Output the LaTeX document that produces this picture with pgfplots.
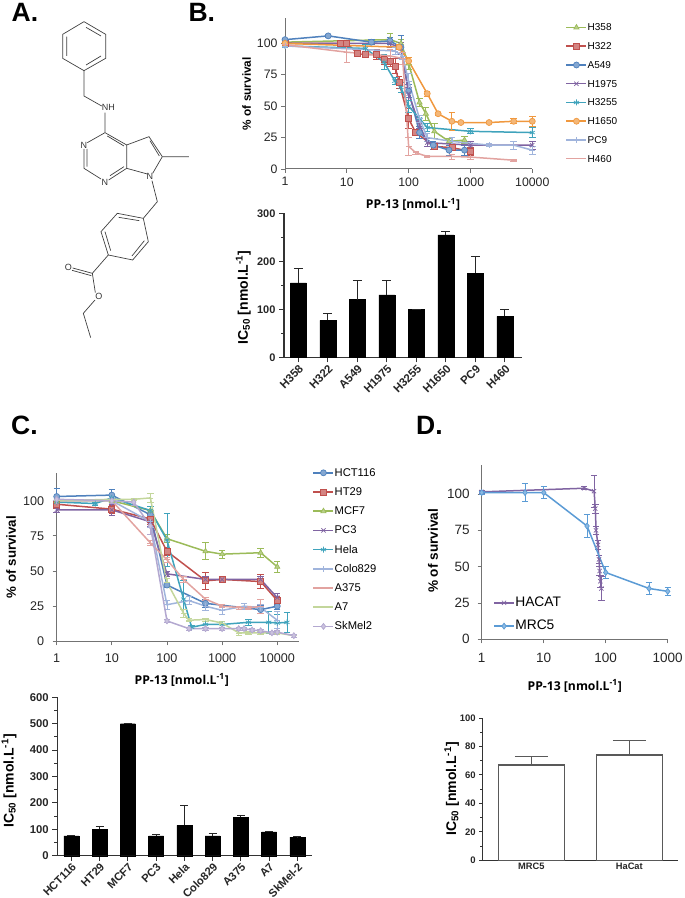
\documentclass[border=0pt]{standalone}
\usepackage{pgfplots}
\pgfplotsset{compat=1.18}
\usepackage{fontspec}
\setmainfont{Liberation Sans}
\newfontfamily\labfont{Open Sans}
\definecolor{cGreen}{HTML}{9BBB59}
\definecolor{cRed}{HTML}{C0504D}
\definecolor{cBlue}{HTML}{4F81BD}
\definecolor{cPurple}{HTML}{8064A2}
\definecolor{cTeal}{HTML}{3FA3BC}
\definecolor{cOrange}{HTML}{F0983E}
\definecolor{cLBlue}{HTML}{A0B4DC}
\definecolor{cPink}{HTML}{E2A3A0}
\definecolor{cLGreen}{HTML}{C3D69B}
\definecolor{cLav}{HTML}{B3A8D0}
\definecolor{cMRC}{HTML}{5B9BD5}
\newcommand{\fs}[1]{\fontsize{#1}{#1}\selectfont}
\pgfplotsset{
  legend image code/.code={\draw[yshift=0.35em,mark repeat=2,mark phase=2,#1] plot coordinates {(0pt,0pt)(10pt,0pt)(20pt,0pt)};},
  myaxiscurve/.style={scale only axis,axis lines=left,axis line style={-,black!55,line width=1pt},
    tick style={black!55,line width=0.9pt},tick align=outside,major tick length=4pt,
    xminorticks=false,ymin=0,ymax=120,
    ytick={0,25,50,75,100},/pgf/number format/assume math mode=true,clip=false,
    every axis x label/.style={at={(axis description cs:0,0)},anchor=center},
    every axis y label/.style={at={(axis description cs:0,0)},rotate=90,anchor=center},
    legend cell align=left},
  myaxisbar/.style={scale only axis,axis lines=left,axis line style={-,black!80,line width=1.1pt},
    tick style={black!80,line width=1pt},tick align=outside,major tick length=5pt,minor tick length=3pt,
    ybar,xtick=data,ymin=0,/pgf/number format/assume math mode=true,clip=false,
    x tick style={black!80},
    every axis x label/.style={at={(axis description cs:0,0)},anchor=center},
    every axis y label/.style={at={(axis description cs:0,0)},rotate=90,anchor=center}},
  myser/.style={color=#1,line width=1.5pt,mark size=3pt,mark options={solid,fill=#1!70!white,draw=#1,line width=0.7pt},
    error bars/y dir=both,error bars/y explicit,error bars/error mark options={rotate=90,mark size=3.2pt,color=#1,line width=0.8pt},
    error bars/error bar style={color=#1,line width=0.8pt}},
  myleg/.style={legend style={at={(axis description cs:0,0)},anchor=north west,draw=none,fill=none,inner sep=0pt,outer sep=0pt,
    nodes={inner sep=0.5pt,text height=7.5pt,text depth=1.5pt,anchor=base west},#1}},
}
\begin{document}
\begin{tikzpicture}
\path[use as bounding box] (0pt,0pt) rectangle (685pt,898pt);
% panel letters
\node[anchor=base west,inner sep=0pt,font=\fs{26.5}\bfseries] at (11.5pt,876.3pt) {A.};
\node[anchor=base west,inner sep=0pt,font=\fs{26.5}\bfseries] at (188.3pt,876.3pt) {B.};
\node[anchor=base west,inner sep=0pt,font=\fs{26.5}\bfseries] at (11pt,463pt) {C.};
\node[anchor=base west,inner sep=0pt,font=\fs{26.5}\bfseries] at (416pt,463pt) {D.};
% molecule (panel A, structural sketch, not data)
\begin{scope}[shift={(0pt,898pt)},x=0.33333pt,y=-0.33333pt,line width=0.7pt,color=black!75]
\draw (252,65)--(317,103)--(317,175)--(252,212)--(188,175)--(188,103)--cycle;
\draw (258,82)--(303,108) (303,168)--(258,195) (200,110)--(200,168);
\draw (252,212)--(252,288)--(305,318) (315,338)--(315,398);
\draw (315,398)--(262,428) (252,447)--(252,505)--(303,537) (326,540)--(380,505)--(380,435)--(315,398);
\draw (261,447)--(261,500) (330,527)--(372,500) (372,438)--(322,408);
\draw (380,435)--(447,410)--(487,470)--(458,520) (442,522)--(380,505);
\draw (450,422)--(478,468) (487,470)--(567,470);
\draw (456,542)--(472,605)--(430,655);
\draw (430,655)--(352,640)--(303,695)--(325,765)--(398,780)--(445,725)--cycle;
\draw (356,652)--(418,662) (315,695)--(332,752) (396,768)--(433,722);
\draw (325,765)--(277,820)--(286,878) (277,820)--(218,804) (274,827)--(216,811);
\draw (285,900)--(250,940)--(272,1013);
\node[font=\fs{9},inner sep=0pt,text=black!80] at (325,323) {NH};
\node[font=\fs{9},inner sep=0pt,text=black!80] at (252,435) {N};
\node[font=\fs{9},inner sep=0pt,text=black!80] at (315,546) {N};
\node[font=\fs{9},inner sep=0pt,text=black!80] at (450,530) {N};
\node[font=\fs{9},inner sep=0pt,text=black!80] at (205,803) {O};
\node[font=\fs{9},inner sep=0pt,text=black!80] at (297,890) {O};
\end{scope}

% Panel B curves
\begin{semilogxaxis}[myaxiscurve,at={(285pt,729pt)},anchor=south west,width=247.3pt,height=150.7pt,
  xmin=1,xmax=10000,xtick={1,10,100,1000,10000},xticklabels={1,10,100,1000,10000},
  tick label style={font=\fs{12.3},text=black!85},
  xticklabel style={yshift=-1pt},
  xlabel={\labfont\fs{12.2}\bfseries PP-13 [nmol.L\textsuperscript{-1}]},
  xlabel style={xshift=128pt,yshift=-35.5pt},
  ylabel={\fs{11.8}\bfseries \% of survival},ylabel style={xshift=75.3pt,yshift=38.3pt},
  myleg={xshift=280.7pt,yshift=146pt,row sep=8.75pt,font=\fs{10}}]
\addplot[myser=cGreen,mark=triangle*] coordinates {(1,101)+-(0,1)(50,103)+-(0,5)(75,100)+-(0,3)(100,84)+-(0,5)(150,53)+-(0,3)(190,44)+-(0,5)(260,30)+-(0,6)(450,22)+-(0,2)(800,23)+-(0,3)};
\addplot[myser=cRed,mark=square*] coordinates {(1,100)+-(0,1)(8,100)+-(0,1)(10,100)+-(0,1)(15,92)+-(0,2)(20,91)+-(0,2)(30,91)+-(0,4)(40,87)+-(0,4)(50,86)+-(0,4)(60,82)+-(0,6)(70,69)+-(0,5)(100,40)+-(0,8)(130,29)+-(0,2)(260,18)+-(0,2)(500,17)+-(0,2)(1000,14)+-(0,3)};
\addplot[myser=cBlue,mark=*] coordinates {(1,103)+-(0,1)(5,106)+-(0,1)(25,101)+-(0,2)(50,102)+-(0,3)(75,97)+-(0,9)(100,62)+-(0,5)(150,29)+-(0,5)(250,19)+-(0,3)(450,15)+-(0,4)(800,15)+-(0,4)};
\addplot[myser=cPurple,mark=x] coordinates {(1,100)+-(0,1)(50,100)+-(0,3)(75,96)+-(0,5)(100,60)+-(0,5)(150,35)+-(0,3)(200,21)+-(0,3)(1000,19)+-(0,3)(10000,19)+-(0,3)};
\addplot[myser=cTeal,mark=asterisk] coordinates {(1,98)+-(0,1)(20,96)+-(0,3)(40,85)+-(0,6)(60,70)+-(0,3)(75,65)+-(0,4)(100,50)+-(0,5)(150,40)+-(0,3)(200,33)+-(0,3)(1000,30)+-(0,2)(10000,29)+-(0,4)};
\addplot[myser=cOrange,mark=*] coordinates {(1,100)+-(0,1)(70,97)+-(0,2)(100,86)+-(0,3)(200,60)+-(0,2)(300,44)+-(0,1)(500,38)+-(0,7)(700,37)+-(0,1)(2000,37)+-(0,1)(5000,38)+-(0,2)(10000,38)+-(0,4)};
\addplot[myser=cLBlue,mark=+] coordinates {(1,98)+-(0,1)(60,94)+-(0,3)(80,90)+-(0,3)(100,70)+-(0,6)(150,40)+-(0,3)(200,25)+-(0,3)(500,22)+-(0,3)(2000,19)+-(0,1)(5000,19)+-(0,3)(10000,15)+-(0,3)};
\addplot[myser=cPink,mark=-] coordinates {(1,99)+-(0,1)(10,93)+-(0,8)(50,90)+-(0,5)(80,88)+-(0,5)(100,18)+-(0,7)(130,13)+-(0,1)(200,10)+-(0,1)(500,10)+-(0,2)(1000,9.5)+-(0,2)(5000,7)+-(0,1)};
\legend{H358,H322,A549,H1975,H3255,H1650,PC9,H460}
\end{semilogxaxis}

% Panel B bars
\begin{axis}[myaxisbar,at={(284pt,540.7pt)},anchor=south west,width=238pt,height=144pt,bar width=16pt,
  xmin=-0.485,xmax=7.58,ymax=300,ytick={0,100,200,300},minor ytick={50,150,250},
  xticklabels={H358,H322,A549,H1975,H3255,H1650,PC9,H460},
  yticklabel style={font=\fs{11}\bfseries,text=black!85},
  xticklabel style={font=\fs{11.5}\bfseries,text=black!85,rotate=45,anchor=north east,inner sep=1pt},
  ylabel={\fs{14}\bfseries IC\textsubscript{50} [nmol.L\textsuperscript{-1}]},ylabel style={xshift=59.8pt,yshift=40.7pt}]
\addplot[fill=black,draw=black,bar shift=0pt,error bars/.cd,y dir=plus,y explicit,error bar style={black!85,line width=1pt},error mark options={rotate=90,mark size=4.5pt,black!85,line width=1pt}]
 coordinates {(0,155)+-(0,31)(1,77)+-(0,15)(2,120)+-(0,40)(3,130)+-(0,30)(4,100)+-(0,0)(5,255)+-(0,7)(6,175)+-(0,35)(7,85)+-(0,15)};
\end{axis}

% Panel C curves
\begin{semilogxaxis}[myaxiscurve,at={(56.7pt,256.7pt)},anchor=south west,width=242.6pt,height=168.7pt,
  xmin=1,xmax=25100,xtick={1,10,100,1000,10000},xticklabels={1,10,100,1000,10000},
  tick label style={font=\fs{12.6},text=black!85},
  xticklabel style={yshift=-5pt},yticklabel style={xshift=-5pt},
  xlabel={\labfont\fs{12.2}\bfseries PP-13 [nmol.L\textsuperscript{-1}]},
  xlabel style={xshift=125pt,yshift=-38.7pt},
  ylabel={\fs{13.3}\bfseries \% of survival},ylabel style={xshift=84.3pt,yshift=45.7pt},
  myleg={xshift=256pt,yshift=174pt,row sep=8.2pt,font=\fs{11.2},nodes={text height=8.5pt,text depth=1.5pt}}]
\addplot[myser=cBlue,mark=*] coordinates {(1,103)+-(0,6)(10,104)+-(0,4)(50,90)+-(0,3)(100,40)+-(0,2)(500,27)+-(0,3)(5000,22.5)+-(0,3)(10000,25)+-(0,2)};
\addplot[myser=cRed,mark=square*] coordinates {(1,97.5)+-(0,3)(10,94)+-(0,3)(50,87)+-(0,4)(100,64)+-(0,3)(500,43)+-(0,6)(1000,44)+-(0,2)(5000,42.5)+-(0,5)(10000,29)+-(0,3)};
\addplot[myser=cGreen,mark=triangle*] coordinates {(1,100)+-(0,2)(10,100)+-(0,2)(50,93)+-(0,3)(100,73)+-(0,3)(500,64)+-(0,6)(1000,62)+-(0,3)(5000,63)+-(0,3)(10000,53)+-(0,4)};
\addplot[myser=cPurple,mark=x] coordinates {(1,93.5)+-(0,2)(10,93.5)+-(0,4)(50,85)+-(0,3)(100,48)+-(0,2)(500,44)+-(0,2)(1000,44)+-(0,2)(5000,44)+-(0,2)(10000,31)+-(0,3)};
\addplot[myser=cTeal,mark=asterisk] coordinates {(1,99)+-(0,1)(5,98)+-(0,1)(10,102)+-(0,2)(50,93)+-(0,3)(100,72)+-(0,19)(200,30)+-(0,13)(280,10)+-(0,1)(500,12)+-(0,2)(1000,12)+-(0,2)(3000,13.5)+-(0,2)(7000,13.5)+-(0,8)(10000,13)+-(0,6)(15000,13.5)+-(0,7)};
\addplot[myser=cLBlue,mark=+] coordinates {(1,100)+-(0,1)(10,100)+-(0,2)(50,85)+-(0,4)(100,26)+-(0,3)(250,29)+-(0,3)(500,25)+-(0,3)(1000,22)+-(0,3)(2500,25)+-(0,2)(5000,24)+-(0,2)(10000,15)+-(0,6)};
\addplot[myser=cPink,mark=-] coordinates {(1,100)+-(0,1)(10,100)+-(0,1)(50,70)+-(0,2)(100,58)+-(0,2)(200,44)+-(0,2)(500,30)+-(0,1)(1000,25)+-(0,1)(2000,24)+-(0,1)(3000,23.5)+-(0,1)(5000,25)+-(0,5)};
\addplot[myser=cLGreen,mark=-] coordinates {(1,100)+-(0,1)(10,101)+-(0,2)(25,101)+-(0,1)(50,102)+-(0,3)(100,42)+-(0,3)(200,20)+-(0,3)(250,15)+-(0,1)(500,15.5)+-(0,1)(1000,13)+-(0,1)(2000,6)+-(0,2)(3000,6)+-(0,1)(5000,6)+-(0,1)(10000,6)+-(0,1)(20000,4)+-(0,1)};
\addplot[myser=cLav,mark=diamond*] coordinates {(1,101)+-(0,1)(10,100)+-(0,2)(25,99)+-(0,2)(50,82)+-(0,6)(100,14.5)+-(0,1)(250,9)+-(0,1)(500,9)+-(0,1)(1000,9)+-(0,1)(2000,9)+-(0,1)(2500,9)+-(0,1)(3500,8)+-(0,1)(5000,7.5)+-(0,1)(8000,6)+-(0,1)(10000,6.5)+-(0,1)(20000,4)+-(0,1)};
\legend{HCT116,HT29,MCF7,PC3,Hela,Colo829,A375,A7,SkMel2}
\end{semilogxaxis}

% Panel C bars
\begin{axis}[myaxisbar,at={(57.3pt,42.3pt)},anchor=south west,width=254.4pt,height=158.4pt,bar width=15pt,
  xmin=-0.4956,xmax=8.51,ymax=600,ytick={0,100,200,300,400,500,600},minor ytick={50,150,250,350,450,550},
  xticklabels={HCT116,HT29,MCF7,PC3,Hela,Colo829,A375,A7,SkMel-2},
  yticklabel style={font=\fs{11.3}\bfseries,text=black!85},
  xticklabel style={font=\fs{11.2}\bfseries,text=black!85,rotate=45,anchor=north east,inner sep=1pt},
  ylabel={\fs{14}\bfseries IC\textsubscript{50} [nmol.L\textsuperscript{-1}]},ylabel style={xshift=74.7pt,yshift=48.3pt}]
\addplot[fill=black,draw=black,bar shift=0pt,error bars/.cd,y dir=plus,y explicit,error bar style={black!85,line width=1pt},error mark options={rotate=90,mark size=4pt,black!85,line width=1pt}]
 coordinates {(0,75)+-(0,2)(1,100)+-(0,10)(2,500)+-(0,2)(3,75)+-(0,5)(4,115)+-(0,75)(5,75)+-(0,8)(6,145)+-(0,8)(7,90)+-(0,0)(8,70)+-(0,1)};
\end{axis}

% Panel D curves
\begin{semilogxaxis}[myaxiscurve,at={(481.7pt,258.7pt)},anchor=south west,width=186pt,height=174.3pt,
  xmin=1,xmax=1000,xtick={1,10,100,1000},xticklabels={1,10,100,1000},
  tick label style={font=\fs{13.5},text=black!85},
  xticklabel style={yshift=-6pt},yticklabel style={xshift=-4.5pt},
  xlabel={\labfont\fs{12.2}\bfseries PP-13 [nmol.L\textsuperscript{-1}]},
  xlabel style={xshift=93pt,yshift=-46.7pt},
  ylabel={\fs{13.6}\bfseries \% of survival},ylabel style={xshift=88.3pt,yshift=48.7pt},
  myleg={xshift=11.6pt,yshift=43pt,row sep=11.3pt,font=\fs{13.8},nodes={text height=9.5pt,text depth=1.5pt}}]
\addplot[myser=cPurple,mark=x] coordinates {(1,101.5)+-(0,1)(45,104)+-(0,1)(65,102)+-(0,11)(68,90)+-(0,3)(70,75)+-(0,3)(75,65)+-(0,3)(78,55)+-(0,3)(80,47)+-(0,3)(82,40)+-(0,4)(85,35)+-(0,8)};
\addplot[myser=cMRC,mark=diamond*] coordinates {(1,101)+-(0,1)(5,101)+-(0,6)(10,101)+-(0,4)(50,78)+-(0,8)(100,46)+-(0,4)(500,35)+-(0,4)(1000,33)+-(0,3)};
\legend{HACAT,MRC5}
\end{semilogxaxis}

% Panel D bars
\begin{axis}[myaxisbar,at={(482.3pt,37.7pt)},anchor=south west,width=196pt,height=142.3pt,bar width=65.7pt,
  xmin=-0.5,xmax=1.5,ymax=100,ytick={0,20,40,60,80,100},minor ytick={10,30,50,70,90},xtick={0,1},
  xticklabels={MRC5,HaCat},major tick length=3pt,minor tick length=2pt,x tick style={draw=none},
  yticklabel style={font=\fs{9.5}\bfseries,text=black!85},
  xticklabel style={font=\fs{9.3}\bfseries,text=black!85,yshift=3.5pt},
  ylabel={\fs{14}\bfseries IC\textsubscript{50} [nmol.L\textsuperscript{-1}]},ylabel style={xshift=71.3pt,yshift=30.6pt}]
\addplot[fill=white,draw=black!65,line width=1.2pt,bar shift=0pt,error bars/.cd,y dir=plus,y explicit,error bar style={black!65,line width=1pt},error mark options={rotate=90,mark size=16.5pt,black!65,line width=1pt}]
 coordinates {(0,67)+-(0,6)(1,74)+-(0,10)};
\end{axis}
\end{tikzpicture}
\end{document}
